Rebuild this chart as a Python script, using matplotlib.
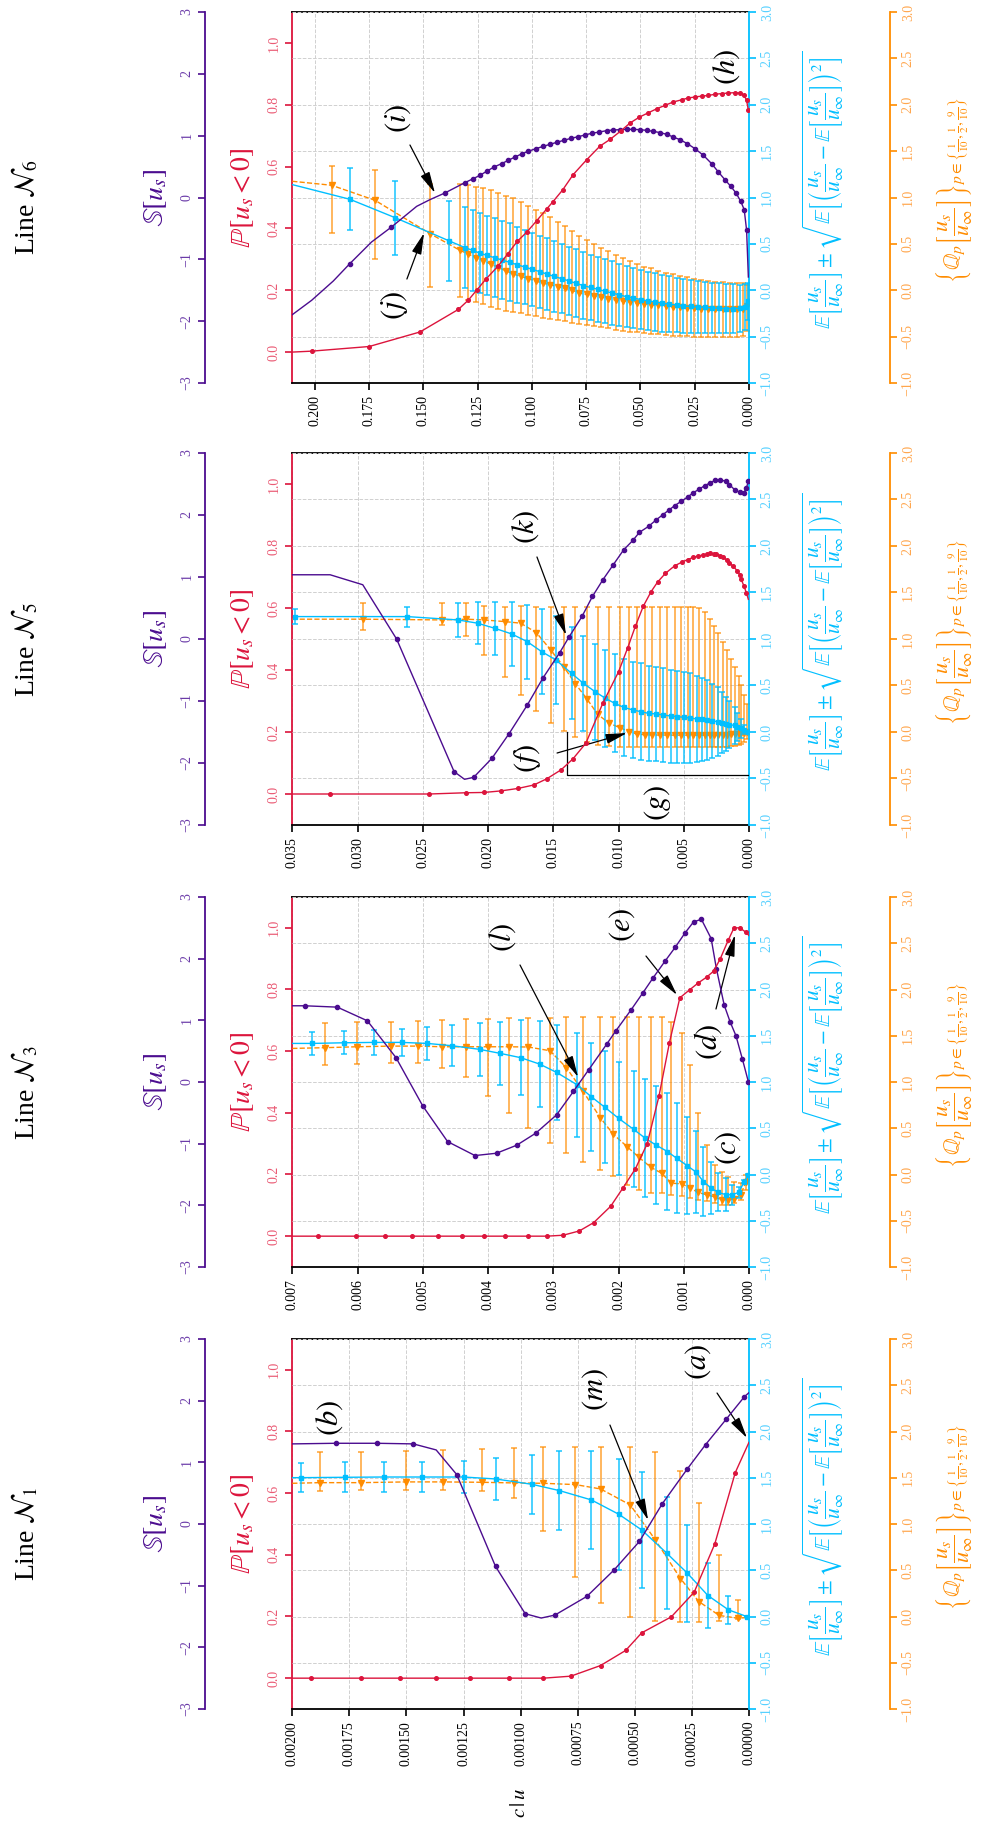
import numpy as np
import matplotlib
matplotlib.use('Agg')
import matplotlib.pyplot as plt
from matplotlib.ticker import MultipleLocator, FuncFormatter

plt.rcParams['font.family'] = ['Liberation Serif', 'DejaVu Serif']
plt.rcParams['mathtext.fontset'] = 'stix'

nan = np.nan

#########
# colours
#########
c_s = '#4b0c8f'
c_p = '#dc143c'
c_e = '#00bfff'
c_q = '#ff8c00'
lab_s = '#6a3aa8'
lab_p = '#ea5a74'
lab_e = '#55d0ff'
lab_q = '#ffa64d'

#################
# line N6 (top)
#################
n6_s_x = [0.2104, 0.2015, 0.1915, 0.1839, 0.1739, 0.1647, 0.1531, 0.1470, 0.1401, 0.1309,
          0.1270, 0.1240, 0.1206, 0.1175, 0.1140, 0.1109, 0.1078, 0.1048, 0.1017, 0.0982,
          0.0948, 0.0917, 0.0886, 0.0853, 0.0820, 0.0786, 0.0756, 0.0725, 0.0690, 0.0656,
          0.0625, 0.0594, 0.0564, 0.0533, 0.0502, 0.0472, 0.0441, 0.0410, 0.0379, 0.0349,
          0.0318, 0.0284, 0.0249, 0.0210, 0.0172, 0.0141, 0.0111, 0.0084, 0.0060, 0.0038,
          0.0022, 0.0011, 0.0003]
n6_s_y = [-1.895, -1.663, -1.350, -1.070, -0.720, -0.477, -0.143, -0.035, 0.073, 0.240,
          0.305, 0.358, 0.429, 0.493, 0.547, 0.601, 0.655, 0.704, 0.747, 0.790,
          0.827, 0.860, 0.892, 0.925, 0.957, 0.984, 1.011, 1.038, 1.059, 1.081,
          1.092, 1.097, 1.102, 1.102, 1.097, 1.086, 1.070, 1.049, 1.022, 0.978,
          0.935, 0.871, 0.790, 0.682, 0.547, 0.412, 0.288, 0.181, 0.073, -0.062,
          -0.197, -0.531, -1.286]
n6_s_plain = [0, 1, 2, 4, 6, 7, 52]

n6_p_x = [0.2104, 0.2015, 0.1750, 0.1516, 0.1339, 0.1293, 0.1255, 0.1212, 0.1155, 0.1112,
          0.1068, 0.1025, 0.0978, 0.0932, 0.0905, 0.0859, 0.0810, 0.0748, 0.0687, 0.0640,
          0.0591, 0.0548, 0.0505, 0.0464, 0.0425, 0.0387, 0.0349, 0.0310, 0.0280, 0.0249,
          0.0218, 0.0187, 0.0157, 0.0126, 0.0095, 0.0065, 0.0041, 0.0022, 0.0011, 0.0003]
n6_p_y = [0.0, 0.003, 0.018, 0.065, 0.138, 0.168, 0.200, 0.236, 0.279, 0.317,
          0.358, 0.387, 0.425, 0.463, 0.485, 0.524, 0.574, 0.622, 0.666, 0.688,
          0.715, 0.741, 0.760, 0.774, 0.787, 0.798, 0.809, 0.816, 0.822, 0.825,
          0.828, 0.830, 0.834, 0.836, 0.838, 0.839, 0.838, 0.830, 0.814, 0.782]
n6_p_plain = [0]

n6_e_x = [0.2104, 0.1839, 0.1631, 0.1381, 0.1309, 0.1273, 0.1240, 0.1206, 0.1170, 0.1137,
          0.1101, 0.1068, 0.1032, 0.0998, 0.0963, 0.0932, 0.0899, 0.0863, 0.0829, 0.0797,
          0.0763, 0.0730, 0.0697, 0.0664, 0.0630, 0.0598, 0.0564, 0.0533, 0.0499, 0.0467,
          0.0433, 0.0399, 0.0367, 0.0333, 0.0303, 0.0269, 0.0237, 0.0203, 0.0171, 0.0137,
          0.0104, 0.0072, 0.0041, 0.0018, 0.0006]
n6_e_m = [1.139, 0.981, 0.783, 0.532, 0.46, 0.43, 0.40, 0.375, 0.35, 0.325,
          0.30, 0.275, 0.25, 0.225, 0.20, 0.175, 0.15, 0.125, 0.10, 0.075,
          0.05, 0.03, 0.01, -0.01, -0.03, -0.05, -0.07, -0.085, -0.10, -0.115,
          -0.125, -0.14, -0.15, -0.16, -0.17, -0.175, -0.18, -0.185, -0.19, -0.195,
          -0.198, -0.198, -0.195, -0.18, -0.12]
n6_e_sd = [nan, 0.332, 0.399, 0.431, 0.44, 0.435, 0.43, 0.43, 0.425, 0.42,
           0.42, 0.41, 0.40, 0.395, 0.39, 0.385, 0.38, 0.375, 0.37, 0.365,
           0.36, 0.355, 0.35, 0.345, 0.34, 0.335, 0.33, 0.325, 0.32, 0.315,
           0.31, 0.305, 0.30, 0.295, 0.29, 0.285, 0.28, 0.275, 0.27, 0.27,
           0.265, 0.26, 0.255, 0.245, 0.20]

n6_q_x = [0.2104, 0.1923, 0.1723, 0.1470, 0.1332, 0.1293, 0.1258, 0.1224, 0.1189, 0.1155,
          0.1120, 0.1086, 0.1052, 0.1017, 0.0983, 0.0948, 0.0917, 0.0882, 0.0848, 0.0814,
          0.0782, 0.0748, 0.0714, 0.0682, 0.0648, 0.0614, 0.0582, 0.0548, 0.0518, 0.0484,
          0.0452, 0.0418, 0.0384, 0.0352, 0.0318, 0.0287, 0.0253, 0.0221, 0.0187, 0.0155,
          0.0121, 0.0088, 0.0057, 0.0029, 0.0011]
n6_q_m = [1.175, 1.132, 0.97, 0.611, 0.431, 0.39, 0.35, 0.32, 0.28, 0.245,
          0.21, 0.175, 0.15, 0.125, 0.10, 0.075, 0.06, 0.04, 0.02, 0.0,
          -0.03, -0.045, -0.06, -0.075, -0.09, -0.105, -0.115, -0.125, -0.135, -0.145,
          -0.155, -0.16, -0.17, -0.178, -0.185, -0.19, -0.195, -0.2, -0.203, -0.205,
          -0.205, -0.205, -0.205, -0.2, -0.17]
n6_q_hi = [nan, 1.337, 1.294, 1.15, 1.15, 1.13, 1.115, 1.10, 1.08, 1.05,
           1.02, 0.99, 0.95, 0.91, 0.87, 0.83, 0.79, 0.74, 0.69, 0.64,
           0.59, 0.545, 0.50, 0.46, 0.42, 0.385, 0.35, 0.315, 0.285, 0.255,
           0.235, 0.21, 0.19, 0.17, 0.155, 0.14, 0.125, 0.11, 0.10, 0.092,
           0.087, 0.083, 0.08, 0.08, 0.06]
n6_q_lo = [nan, 0.615, 0.341, 0.04, -0.07, -0.10, -0.125, -0.15, -0.18, -0.20,
           -0.22, -0.235, -0.25, -0.265, -0.28, -0.295, -0.305, -0.32, -0.335, -0.35,
           -0.365, -0.38, -0.39, -0.40, -0.41, -0.425, -0.435, -0.445, -0.45, -0.46,
           -0.47, -0.475, -0.48, -0.49, -0.495, -0.498, -0.50, -0.502, -0.503, -0.503,
           -0.503, -0.503, -0.50, -0.49, -0.44]

#################
# line N5
#################
n5_s_x = [0.0350, 0.0321, 0.0296, 0.0270, 0.0226, 0.0218, 0.0211, 0.0197, 0.0184, 0.0170,
          0.0158, 0.0145, 0.0138, 0.0128, 0.0120, 0.0112, 0.0104, 0.0096, 0.0089, 0.0084,
          0.0077, 0.0071, 0.0066, 0.0061, 0.0057, 0.0052, 0.0047, 0.0043, 0.0038, 0.0034,
          0.0030, 0.0026, 0.0022, 0.0018, 0.0015, 0.0011, 0.0007, 0.0004, 0.0002, 0.00005]
n5_s_y = [1.036, 1.036, 0.875, -0.003, -2.139, -2.263, -2.231, -1.924, -1.531, -1.068,
          -0.632, -0.218, 0.030, 0.363, 0.686, 0.955, 1.198, 1.440, 1.590, 1.720,
          1.816, 1.924, 2.005, 2.086, 2.150, 2.220, 2.290, 2.355, 2.419, 2.473,
          2.516, 2.559, 2.570, 2.543, 2.489, 2.408, 2.365, 2.355, 2.435, 2.543]
n5_s_plain = [0, 1, 2, 5]

n5_p_x = [0.0350, 0.0321, 0.0245, 0.0217, 0.0203, 0.0190, 0.0177, 0.0165, 0.0155, 0.0144,
          0.0135, 0.0125, 0.0112, 0.0100, 0.0093, 0.0087, 0.0081, 0.0075, 0.0070, 0.0064,
          0.0057, 0.0051, 0.0047, 0.0043, 0.0039, 0.0035, 0.0032, 0.0030, 0.0027, 0.0025,
          0.0022, 0.0020, 0.0017, 0.0015, 0.0012, 0.0009, 0.0007, 0.0006, 0.0004, 0.0002,
          0.00005]
n5_p_y = [0.0, 0.0, 0.0, 0.004, 0.005, 0.010, 0.018, 0.029, 0.049, 0.078,
          0.113, 0.164, 0.293, 0.394, 0.471, 0.542, 0.606, 0.653, 0.684, 0.712,
          0.736, 0.749, 0.756, 0.763, 0.768, 0.771, 0.774, 0.776, 0.775, 0.773,
          0.769, 0.763, 0.755, 0.746, 0.734, 0.720, 0.707, 0.693, 0.672, 0.649,
          0.628]
n5_p_plain = [0, 40]

n5_e_x = [0.0348, 0.0262, 0.0223, 0.0208, 0.0195, 0.0182, 0.0170, 0.0159, 0.0148, 0.0136,
          0.0127, 0.0118, 0.0110, 0.0103, 0.0096, 0.0089, 0.0083, 0.0077, 0.0071, 0.0066,
          0.0060, 0.0055, 0.0050, 0.0045, 0.0040, 0.0036, 0.0032, 0.0028, 0.0024, 0.0021,
          0.0018, 0.0015, 0.0011, 0.0009, 0.0006, 0.0004, 0.0001]
n5_e_m = [1.241, 1.241, 1.205, 1.17, 1.116, 1.055, 0.972, 0.865, 0.775, 0.631,
          0.524, 0.434, 0.362, 0.309, 0.265, 0.237, 0.219, 0.200, 0.194, 0.183,
          0.172, 0.165, 0.158, 0.150, 0.140, 0.135, 0.128, 0.120, 0.110, 0.100,
          0.090, 0.080, 0.070, 0.055, 0.040, 0.025, 0.005]
n5_e_sd = [0.081, 0.108, 0.179, 0.224, 0.287, 0.34, 0.398, 0.457, 0.47, 0.495,
           0.508, 0.515, 0.52, 0.525, 0.525, 0.52, 0.52, 0.515, 0.51, 0.505,
           0.50, 0.495, 0.49, 0.48, 0.465, 0.45, 0.43, 0.40, 0.37, 0.33,
           0.29, 0.25, 0.20, 0.15, 0.10, 0.05, 0.01]

n5_q_x = [0.0350, 0.0296, 0.0235, 0.0217, 0.0203, 0.0187, 0.0175, 0.0163, 0.0152, 0.0142,
          0.0133, 0.0124, 0.0116, 0.0107, 0.0099, 0.0092, 0.0086, 0.0080, 0.0074, 0.0068,
          0.0063, 0.0057, 0.0052, 0.0047, 0.0043, 0.0038, 0.0034, 0.0030, 0.0027, 0.0024,
          0.0020, 0.0017, 0.0014, 0.0011, 0.0008, 0.0006, 0.0004, 0.00015]
n5_q_m = [1.213, 1.213, 1.205, 1.213, 1.205, 1.187, 1.170, 1.069, 0.883, 0.703,
          0.517, 0.352, 0.190, 0.093, 0.047, 0.004, -0.022, -0.030, -0.032, -0.033,
          -0.033, -0.034, -0.034, -0.034, -0.034, -0.034, -0.034, -0.033, -0.033, -0.032,
          -0.030, -0.028, -0.025, -0.022, -0.018, -0.014, -0.010, -0.005]
n5_q_hi = ([nan, 1.385, 1.392, 1.385, 1.356, 1.349, 1.36] + [1.349] * 17 +
           [1.345, 1.33, 1.29, 1.22, 1.14, 1.06, 0.97, 0.88, 0.79, 0.70, 0.60, 0.50, 0.40, 0.30])
n5_q_lo = ([nan, 1.098, 1.152, 1.037, 0.829, 0.588, 0.398, 0.226, 0.10, 0.014,
            -0.05, -0.104, -0.14, -0.151, -0.158, -0.158] + [-0.158] * 16 +
           [-0.155, -0.15, -0.14, -0.13, -0.11, -0.08])

#################
# line N3
#################
n3_s_x = [0.0070, 0.00681, 0.00631, 0.00585, 0.00541, 0.00500, 0.00462, 0.00420, 0.00387, 0.00356,
          0.00327, 0.00295, 0.00269, 0.00246, 0.00218, 0.00204, 0.00181, 0.00163, 0.00147, 0.00128,
          0.00113, 0.00098, 0.00085, 0.00073, 0.00058, 0.00050, 0.00038, 0.00029, 0.00020, 0.00010,
          0.00001]
n3_s_y = [1.236, 1.236, 1.214, 0.993, 0.394, -0.389, -0.966, -1.193, -1.155, -1.025,
          -0.831, -0.534, -0.151, 0.194, 0.615, 0.831, 1.166, 1.441, 1.689, 1.970,
          2.186, 2.418, 2.596, 2.639, 2.326, 1.840, 1.247, 0.977, 0.750, 0.367,
          0.005]
n3_s_plain = [0]

n3_p_x = [0.0070, 0.00660, 0.00603, 0.00558, 0.00516, 0.00477, 0.00440, 0.00406, 0.00374, 0.00338,
          0.00310, 0.00285, 0.00260, 0.00238, 0.00212, 0.00193, 0.00174, 0.00156, 0.00138, 0.00122,
          0.00106, 0.00091, 0.00078, 0.00065, 0.00054, 0.00044, 0.00032, 0.00023, 0.00014, 0.00005,
          0.0]
n3_p_y = [0.0] * 11 + [0.003, 0.017, 0.044, 0.097, 0.157, 0.219, 0.30, 0.454, 0.627,
                       0.773, 0.799, 0.821, 0.84, 0.86, 0.90, 0.959, 1.0, 1.0, 0.986, 0.975]
n3_p_plain = [0, 30]

n3_e_x = [0.0070, 0.00670, 0.00621, 0.00575, 0.00532, 0.00493, 0.00455, 0.00413, 0.00381, 0.00350,
          0.00321, 0.00295, 0.00263, 0.00242, 0.00221, 0.00200, 0.00177, 0.00159, 0.00143, 0.00125,
          0.00111, 0.00095, 0.00081, 0.00070, 0.00058, 0.00047, 0.00035, 0.00026, 0.00016, 0.00007,
          0.00001]
n3_e_m = [1.417, 1.417, 1.424, 1.428, 1.428, 1.417, 1.392, 1.353, 1.309, 1.263,
          1.194, 1.104, 0.968, 0.842, 0.727, 0.608, 0.489, 0.392, 0.32, 0.248,
          0.176, 0.097, 0.025, -0.076, -0.147, -0.194, -0.219, -0.219, -0.194, -0.076,
          0.0]
n3_e_sd = [nan, 0.126, 0.126, 0.131, 0.149, 0.178, 0.221, 0.284, 0.342, 0.403,
           0.462, 0.513, 0.558, 0.585, 0.603, 0.61, 0.629, 0.64, 0.639, 0.63,
           0.597, 0.529, 0.44, 0.369, 0.284, 0.205, 0.18, 0.108, 0.063, 0.02,
           0.01]

n3_q_x = [0.0070, 0.00650, 0.00601, 0.00549, 0.00508, 0.00470, 0.00433, 0.00400, 0.00368, 0.00338,
          0.00305, 0.00280, 0.00255, 0.00228, 0.00208, 0.00187, 0.00169, 0.00150, 0.00134, 0.00119,
          0.00103, 0.00090, 0.00078, 0.00065, 0.00052, 0.00042, 0.00032, 0.00023, 0.00013, 0.00005,
          0.0]
n3_q_m = [1.363, 1.371, 1.381, 1.388, 1.388, 1.381, 1.381, 1.381, 1.381, 1.378,
          1.338, 1.155, 0.906, 0.615, 0.435, 0.302, 0.187, 0.076, 0.014, -0.094,
          -0.101, -0.147, -0.194, -0.219, -0.245, -0.273, -0.273, -0.266, -0.219, -0.086,
          0.0]
n3_q_hi = [nan, 1.633, 1.644, 1.651, 1.658, 1.669, 1.676, 1.68, 1.687, 1.687,
           1.694, 1.698, 1.705, 1.705, 1.705, 1.705, 1.705, 1.705, 1.705, 1.651,
           1.525, 1.183, 0.669, 0.32, 0.104, 0.032, -0.022, -0.076, -0.094, -0.004,
           nan]
n3_q_lo = [nan, 1.183, 1.194, 1.201, 1.201, 1.147, 1.058, 0.849, 0.662, 0.50,
           0.338, 0.23, 0.14, 0.05, -0.011, -0.112, -0.165, -0.201, -0.201, -0.219,
           -0.237, -0.255, -0.281, -0.291, -0.309, -0.327, -0.327, -0.309, -0.273, -0.165,
           nan]

#################
# line N1 (bottom)
#################
n1_s_x = [0.00200, 0.00181, 0.00163, 0.00147, 0.00137, 0.00128, 0.00111, 0.00098, 0.00091, 0.00085,
          0.00071, 0.00059, 0.00048, 0.00038, 0.00027, 0.00019, 0.00010, 0.00002, 0.0]
n1_s_y = [1.299, 1.309, 1.309, 1.299, 1.201, 0.802, -0.688, -1.455, -1.525, -1.477,
          -1.174, -0.742, -0.283, 0.327, 0.894, 1.288, 1.698, 2.065, 2.130]
n1_s_plain = [0, 4, 8, 18]

n1_p_x = [0.00200, 0.00192, 0.00170, 0.00153, 0.00137, 0.00122, 0.00105, 0.00090, 0.00078, 0.00065,
          0.00054, 0.00047, 0.00034, 0.00024, 0.00015, 0.00006, 0.0]
n1_p_y = [0.0, 0.0, 0.0, 0.0, 0.0, 0.0, 0.0, 0.0, 0.0065, 0.041,
          0.090, 0.147, 0.199, 0.279, 0.435, 0.667, 0.765]
n1_p_plain = [0, 16]

n1_e_x = [0.00200, 0.00196, 0.00177, 0.00160, 0.00143, 0.00125, 0.00111, 0.00095, 0.00083, 0.00069,
          0.00057, 0.00047, 0.00036, 0.00027, 0.00018, 0.00009, 0.00001]
n1_e_m = [1.501, 1.501, 1.505, 1.508, 1.508, 1.508, 1.487, 1.429, 1.361, 1.26,
          1.105, 0.936, 0.684, 0.468, 0.227, 0.072, 0.0]
n1_e_sd = [nan, 0.156, 0.16, 0.165, 0.165, 0.17, 0.225, 0.322, 0.423, 0.526,
           0.60, 0.623, 0.605, 0.524, 0.351, 0.153, 0.005]

n1_q_x = [0.00200, 0.00188, 0.00170, 0.00150, 0.00134, 0.00117, 0.00103, 0.00090, 0.00076, 0.00065,
          0.00052, 0.00041, 0.00030, 0.00022, 0.00013, 0.00005, 0.0]
n1_q_m = [1.44, 1.447, 1.447, 1.455, 1.455, 1.451, 1.444, 1.440, 1.426, 1.379,
          1.206, 0.828, 0.410, 0.162, 0.011, -0.018, -0.01]
n1_q_hi = [nan, 1.775, 1.782, 1.793, 1.80, 1.815, 1.818, 1.829, 1.836, 1.836,
           1.829, 1.782, 1.577, 1.231, 0.666, 0.18, nan]
n1_q_lo = [nan, 1.361, 1.368, 1.368, 1.368, 1.361, 1.282, 0.929, 0.425, 0.151,
           0.0, -0.054, -0.061, -0.061, -0.047, -0.025, nan]

###################
# labels and notes
###################
s_label = r'$\mathbb{S}\left[u_s\right]$'
p_label = r'$\mathbb{P}\left[u_s < 0\right]$'
e_label = (r'$\mathbb{E}\left[\dfrac{u_s}{u_\infty}\right] \pm '
           r'\sqrt{\mathbb{E}\left[\left(\dfrac{u_s}{u_\infty} - '
           r'\mathbb{E}\left[\dfrac{u_s}{u_\infty}\right]\right)^2\right]}$')
q_label = (r'$\left\{\mathbb{Q}_p\left[\dfrac{u_s}{u_\infty}\right]\right\}'
           r'_{p\in\left\{\frac{1}{10},\frac{1}{2},\frac{9}{10}\right\}}$')
x_label = r'$c\,|\,u$'


def minus(fmt):
    return FuncFormatter(lambda v, pos: fmt.format(v).replace('-', '\u2212'))


def style_y(a, side, color, lab_color, lim, step, fmt, offset=0):
    a.set_ylim(*lim)
    a.yaxis.set_major_locator(MultipleLocator(step))
    a.yaxis.set_major_formatter(minus(fmt))
    a.yaxis.set_ticks_position(side)
    for sp in a.spines.values():
        sp.set_visible(False)
    a.spines[side].set_visible(True)
    a.spines[side].set_color(color)
    a.spines[side].set_linewidth(1.3)
    if offset:
        a.spines[side].set_position(('outward', offset))
    a.tick_params(axis='y', colors=color, labelcolor=lab_color, labelsize=10,
                  labelrotation=90, length=5, width=1.2, direction='out')
    for t in a.get_yticklabels():
        t.set_verticalalignment('center')


def bars(a, x, mid, lo, hi, color, mk, ms, ls, alpha):
    x = np.asarray(x); mid = np.asarray(mid); lo = np.asarray(lo); hi = np.asarray(hi)
    ok = np.isfinite(lo)
    a.plot(x, mid, color=color, lw=1.0, ls=ls, zorder=3)
    a.vlines(x[ok], lo[ok], hi[ok], color=color, lw=1.1, alpha=alpha, zorder=2)
    a.plot(x[ok], lo[ok], ls='none', marker='_', ms=5, mew=1.1, color=color, alpha=alpha, zorder=2)
    a.plot(x[ok], hi[ok], ls='none', marker='_', ms=5, mew=1.1, color=color, alpha=alpha, zorder=2)
    a.plot(x[ok], mid[ok], ls='none', marker=mk, ms=ms, color=color, zorder=4)


def draw_panel(top_px, bot_px, xmax, xstep, xfmt, name, s, p, e, q, notes, arrows, box=None,
               xlabel=False):
    W, H = 988.0, 1830.0
    rect = [292.3 / W, 1 - bot_px / H, (749 - 292.3) / W, (bot_px - top_px) / H]
    ax = fig.add_axes(rect)
    ax_q = ax.twinx()
    ax_e = ax.twinx()
    ax_s = ax.twinx()
    ax_p = ax.twinx()
    for z, a in enumerate([ax, ax_q, ax_e, ax_s, ax_p]):
        a.set_zorder(z)
    ax.set_xlim(xmax, 0)

    # main axis: P spine on the left, distance at the bottom
    ax.set_ylim(-0.1, 1.1)
    ax.yaxis.set_major_locator(MultipleLocator(0.2))
    ax.yaxis.set_major_formatter(minus('{:.1f}'))
    ax.spines['left'].set_color(c_p)
    ax.spines['left'].set_linewidth(1.3)
    ax.spines['right'].set_visible(False)
    ax.spines['top'].set_linewidth(1.3)
    ax.spines['bottom'].set_linewidth(1.3)
    ax.tick_params(axis='y', colors=c_p, labelcolor=lab_p, labelsize=10,
                   labelrotation=90, length=5, width=1.2)
    for t in ax.get_yticklabels():
        t.set_verticalalignment('center')
    ax.xaxis.set_major_locator(MultipleLocator(xstep))
    ax.xaxis.set_major_formatter(FuncFormatter(lambda v, pos: xfmt.format(abs(v))))
    ax.tick_params(axis='x', labelsize=10, labelrotation=90, length=5, width=1.2)
    ax.grid(axis='x', color='#d0d0d0', ls='--', lw=0.7)

    style_y(ax_q, 'right', c_q, lab_q, (-1, 3), 0.5, '{:.1f}', offset=101.5)
    ax_q.grid(axis='y', color='#d0d0d0', ls='--', lw=0.7)
    style_y(ax_e, 'right', c_e, lab_e, (-1, 3), 0.5, '{:.1f}')
    style_y(ax_s, 'left', c_s, lab_s, (-3, 3), 1, '{:.0f}', offset=62.6)
    ax_p.set_ylim(-0.1, 1.1)
    ax_p.yaxis.set_visible(False)
    for sp in ax_p.spines.values():
        sp.set_visible(False)

    # data
    sx, sy, splain = s
    ax_s.plot(sx, sy, color=c_s, lw=1.0, marker='o', ms=3,
              markevery=[i for i in range(len(sx)) if i not in splain])
    px, py, pplain = p
    ax_p.plot(px, py, color=c_p, lw=1.0, marker='o', ms=2.6,
              markevery=[i for i in range(len(px)) if i not in pplain])
    ex, em, esd = e
    em = np.asarray(em); esd = np.asarray(esd)
    bars(ax_e, ex, em, em - esd, em + esd, c_e, 's', 3, '-', 0.9)
    qx, qm, qlo, qhi = q
    bars(ax_q, qx, qm, qlo, qhi, c_q, 'v', 5, '--', 0.8)

    # annotations
    for txt, x, y in notes:
        ax_e.text(x, y, txt, rotation=90, ha='center', va='center', fontsize=22, zorder=6)
    for x0, y0, x1, y1 in arrows:
        ax_e.annotate('', xy=(x1, y1), xytext=(x0, y0), zorder=6,
                      arrowprops=dict(arrowstyle='-|>,head_length=1.3,head_width=0.3',
                                      color='k', lw=0.9, shrinkA=0, shrinkB=0,
                                      mutation_scale=10))
    if box is not None:
        bx, by = box
        ax_e.plot([bx, bx, 0], [0, by, by], color='k', lw=0.9, zorder=6)

    # axis titles
    ax.text(-0.300, 0.5, s_label, transform=ax.transAxes, rotation=90, ha='center',
            va='center', fontsize=20, color=c_s)
    ax.text(-0.108, 0.5, p_label, transform=ax.transAxes, rotation=90, ha='center',
            va='center', fontsize=20, color=c_p)
    ax.text(1.163, 0.52, e_label, transform=ax.transAxes, rotation=90, ha='center',
            va='center', fontsize=15.5, color=c_e)
    ax.text(1.448, 0.52, q_label, transform=ax.transAxes, rotation=90, ha='center',
            va='center', fontsize=16, color=c_q)
    fig.text(25 / W, 1 - ((top_px + bot_px) / 2 + 10) / H, name, rotation=90,
             ha='center', va='center', fontsize=20)
    if xlabel:
        fig.text(520.6 / W, 1 - 1803 / H, x_label, rotation=90,
                 ha='center', va='center', fontsize=15)


fig = plt.figure(figsize=(9.88, 18.3), dpi=100)

draw_panel(12, 383, 0.2104, 0.025, '{:.3f}', r'Line $\mathcal{N}_6$',
           (n6_s_x, n6_s_y, n6_s_plain), (n6_p_x, n6_p_y, n6_p_plain),
           (n6_e_x, n6_e_m, n6_e_sd), (n6_q_x, n6_q_m, n6_q_lo, n6_q_hi),
           [(r'$(i)$', 0.1617, 1.857), (r'$(j)$', 0.1631, -0.159), (r'$(h)$', 0.0101, 2.407)],
           [(0.1562, 1.566, 0.1447, 1.049), (0.1576, 0.121, 0.1497, 0.617)])

draw_panel(453, 825, 0.035, 0.005, '{:.3f}', r'Line $\mathcal{N}_5$',
           (n5_s_x, n5_s_y, n5_s_plain), (n5_p_x, n5_p_y, n5_p_plain),
           (n5_e_x, n5_e_m, n5_e_sd), (n5_q_x, n5_q_m, n5_q_lo, n5_q_hi),
           [(r'$(k)$', 0.01709, 2.204), (r'$(f)$', 0.01694, -0.28), (r'$(g)$', 0.00705, -0.763)],
           [(0.01625, 1.882, 0.01402, 1.043), (0.01471, -0.226, 0.00935, -0.011)],
           box=(0.01393, -0.462))

draw_panel(897, 1267, 0.007, 0.001, '{:.3f}', r'Line $\mathcal{N}_3$',
           (n3_s_x, n3_s_y, n3_s_plain), (n3_p_x, n3_p_y, n3_p_plain),
           (n3_e_x, n3_e_m, n3_e_sd), (n3_q_x, n3_q_m, n3_q_lo, n3_q_hi),
           [(r'$(l)$', 0.00377, 2.568), (r'$(e)$', 0.001947, 2.697),
            (r'$(d)$', 0.000628, 1.432), (r'$(c)$', 0.000322, 0.286)],
           [(0.00351, 2.265, 0.00262, 1.054), (0.001579, 2.362, 0.001104, 1.941),
            (0.000506, 1.789, 0.000215, 2.589)])

draw_panel(1339, 1709, 0.002, 0.00025, '{:.5f}', r'Line $\mathcal{N}_1$',
           (n1_s_x, n1_s_y, n1_s_plain), (n1_p_x, n1_p_y, n1_p_plain),
           (n1_e_x, n1_e_m, n1_e_sd), (n1_q_x, n1_q_m, n1_q_lo, n1_q_hi),
           [(r'$(b)$', 0.001835, 2.146), (r'$(m)$', 0.000674, 2.449), (r'$(a)$', 0.000223, 2.751)],
           [(0.000609, 2.07, 0.000442, 1.043), (0.00014, 2.416, 0.0000088, 1.93)],
           xlabel=True)

fig.savefig('out.png', dpi=100)
